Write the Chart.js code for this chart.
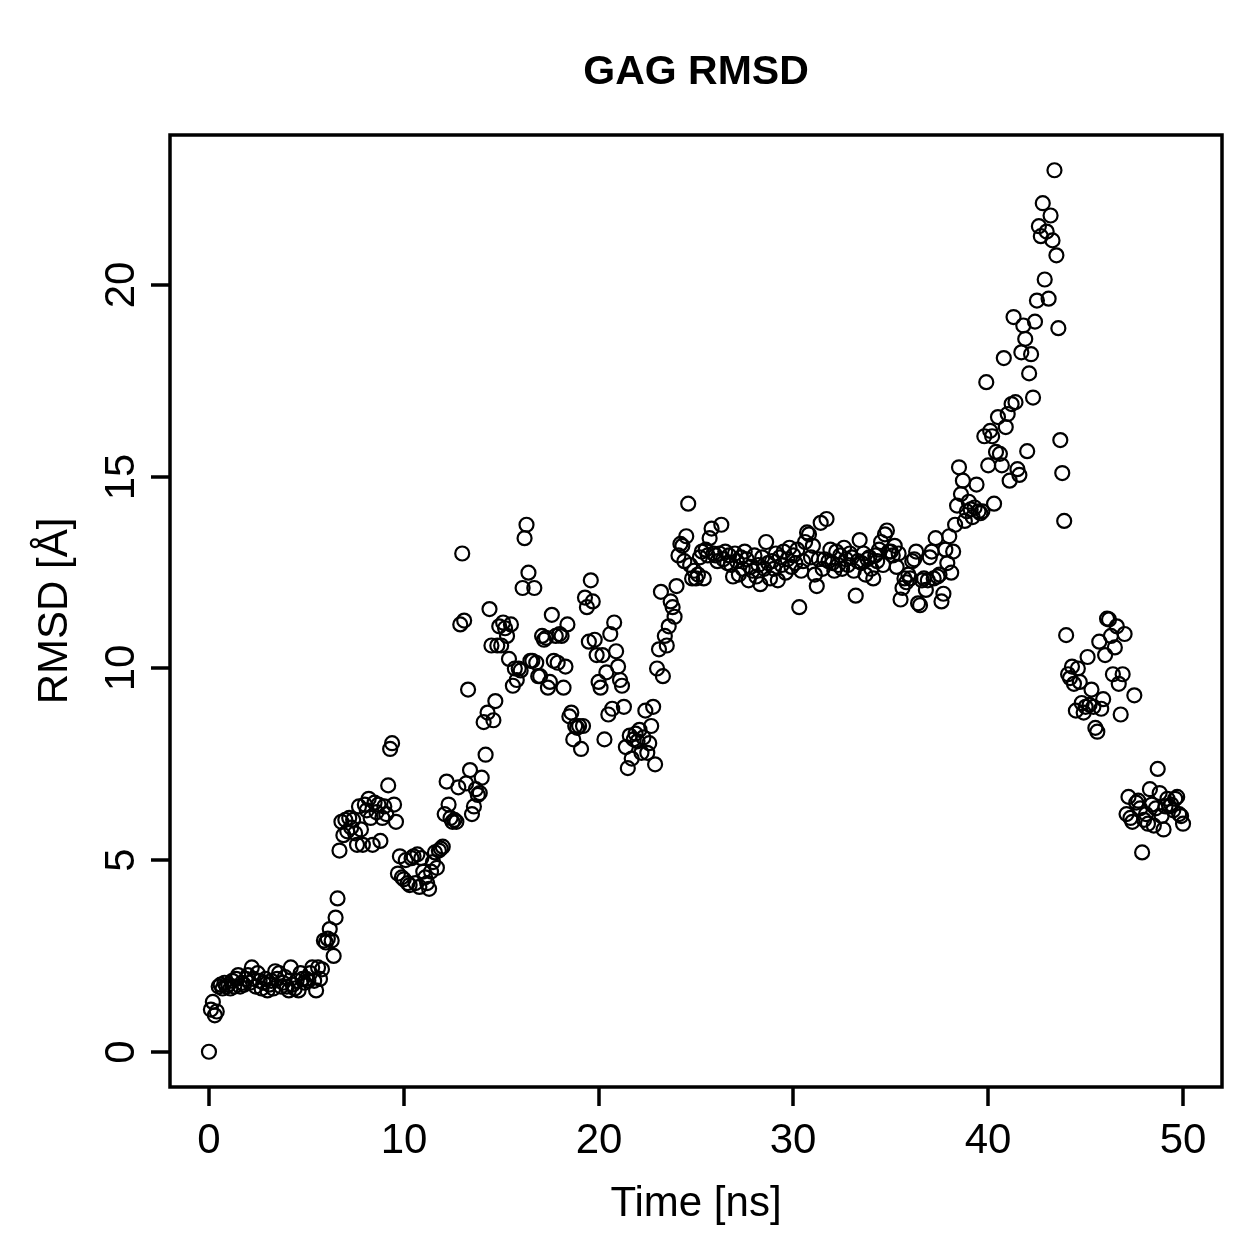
<!DOCTYPE html>
<html>
<head>
<meta charset="utf-8">
<script src="https://cdn.jsdelivr.net/npm/chart.js@4/dist/chart.umd.min.js"></script>
<style>
  html, body { margin: 0; padding: 0; background: #fff; }
  #wrap { width: 1259px; height: 1259px; }
</style>
</head>
<body>
<div id="wrap"><canvas id="rmsdChart" width="1259" height="1259"></canvas></div>
<script>
// ---- data (one frame every 0.1 ns, 0 .. 50 ns) ----
const timeStep = 0.1; // ns

// 0 - 9.9 ns
const rmsd00 = [
  0.00, 1.10, 1.30, 0.95, 1.05, 1.70, 1.75, 1.65, 1.80, 1.70,
  1.75, 1.65, 1.85, 1.70, 1.90, 2.00, 1.70, 1.80, 1.75, 1.90,
  2.00, 1.80, 2.20, 1.90, 1.70, 2.05, 1.85, 1.65, 1.80, 1.90,
  1.60, 1.75, 1.85, 1.65, 2.10, 1.90, 2.05, 1.70, 1.80, 1.95,
  1.70, 1.60, 2.20, 1.75, 1.65, 1.85, 1.60, 2.05, 1.90, 1.80,
  1.90, 1.85, 2.05, 2.20, 1.85, 1.60, 2.20, 1.90, 2.15, 2.90,
  2.85, 2.95, 3.20, 2.90, 2.50, 3.50, 4.00, 5.25, 6.00, 5.65,
  6.05, 5.75, 6.10, 5.85, 6.05, 5.70, 5.40, 6.40, 5.80, 5.40,
  6.45, 6.30, 6.60, 6.10, 5.40, 6.50, 6.25, 6.45, 5.50, 6.10,
  6.40, 6.20, 6.95, 7.90, 8.05, 6.45, 6.00, 4.65, 5.10, 4.55
];
// 10 - 19.9 ns
const rmsd10 = [
  4.50, 5.00, 4.40, 4.35, 5.05, 5.10, 4.40, 5.15, 4.30, 5.05,
  4.70, 4.55, 4.40, 4.25, 4.70, 4.95, 5.20, 4.80, 5.25, 5.30,
  5.35, 6.20, 7.05, 6.45, 6.10, 6.00, 6.05, 6.00, 6.90, 11.15,
  13.00, 11.25, 7.00, 9.45, 7.35, 6.20, 6.40, 6.85, 6.70, 6.75,
  7.15, 8.60, 7.75, 8.85, 11.55, 10.60, 8.65, 9.15, 10.60, 11.10,
  10.60, 11.20, 11.05, 10.85, 10.25, 11.15, 9.55, 10.00, 9.70, 10.00,
  9.95, 12.10, 13.40, 13.75, 12.50, 10.20, 10.20, 12.10, 10.15, 9.80,
  9.80, 10.85, 10.75, 10.80, 9.50, 9.65, 11.40, 10.20, 10.85, 10.15,
  10.90, 10.85, 9.50, 10.05, 11.15, 8.75, 8.85, 8.15, 8.50, 8.45,
  8.50, 7.90, 8.50, 11.85, 11.60, 10.70, 12.30, 11.75, 10.75, 10.35
];
// 20 - 29.9 ns
const rmsd20 = [
  9.65, 9.50, 10.35, 8.15, 9.90, 8.80, 10.90, 8.95, 11.20, 10.45,
  10.05, 9.70, 9.55, 9.00, 7.95, 7.40, 8.25, 7.65, 8.15, 8.30,
  8.10, 8.40, 7.80, 8.20, 8.90, 7.80, 8.05, 8.50, 9.00, 7.50,
  10.00, 10.50, 12.00, 9.80, 10.85, 10.60, 11.10, 11.75, 11.60, 11.35,
  12.15, 12.95, 13.25, 13.20, 12.80, 13.45, 14.30, 12.70, 12.35, 12.55,
  12.35, 12.45, 12.90, 13.05, 12.35, 13.10, 12.95, 13.40, 13.65, 13.00,
  12.95, 12.80, 13.00, 13.75, 12.85, 13.05, 12.75, 12.95, 12.70, 12.40,
  13.00, 12.80, 12.45, 12.90, 12.60, 13.05, 12.85, 12.30, 12.65, 12.55,
  12.95, 12.40, 12.70, 12.20, 12.90, 12.60, 13.30, 12.75, 12.35, 12.80,
  12.60, 13.00, 12.30, 12.90, 12.70, 13.05, 12.50, 12.85, 13.15, 12.65
];
// 30 - 39.9 ns
const rmsd30 = [
  12.95, 12.75, 13.10, 11.60, 12.55, 12.80, 13.30, 13.55, 13.50, 12.90,
  13.20, 12.45, 12.15, 12.85, 13.80, 12.60, 12.85, 13.90, 12.80, 13.10,
  12.75, 12.55, 13.05, 12.70, 12.95, 12.60, 13.15, 12.85, 12.70, 13.00,
  12.90, 12.55, 11.90, 12.80, 13.35, 12.75, 13.00, 12.45, 12.85, 12.90,
  12.60, 12.35, 12.95, 12.80, 13.10, 13.30, 12.70, 13.50, 13.60, 13.05,
  13.05, 12.95, 13.20, 12.65, 13.00, 11.80, 12.10, 12.35, 12.25, 12.45,
  12.35, 12.80, 12.85, 13.05, 11.70, 11.65, 12.30, 12.35, 12.05, 12.30,
  12.90, 13.05, 12.35, 13.40, 12.40, 12.45, 11.75, 11.95, 13.10, 12.75,
  13.45, 12.50, 13.05, 13.75, 14.25, 15.25, 14.55, 14.90, 13.85, 14.10,
  14.35, 14.15, 13.95, 14.20, 14.80, 14.10, 14.05, 14.10, 16.06, 17.47
];
// 40 - 50 ns
const rmsd40 = [
  15.30, 16.20, 16.06, 14.30, 15.65, 16.56, 15.60, 15.30, 18.10, 16.30,
  16.64, 14.90, 16.90, 19.17, 16.95, 15.20, 15.05, 18.25, 18.95, 18.60,
  15.67, 17.70, 18.20, 17.07, 19.05, 19.60, 21.54, 21.28, 22.14, 20.15,
  21.40, 19.65, 21.82, 21.17, 23.00, 20.78, 18.88, 15.96, 15.10, 13.85,
  10.87, 9.85, 9.75, 10.05, 9.60, 8.90, 10.00, 9.65, 9.10, 8.85,
  9.00, 10.30, 9.05, 9.45, 9.00, 8.45, 8.35, 10.70, 8.95, 9.20,
  10.35, 11.30, 11.28, 10.85, 9.85, 10.55, 11.10, 9.60, 8.80, 9.85,
  10.90, 6.20, 6.65, 6.10, 6.00, 9.30, 6.50, 6.55, 6.35, 5.20,
  6.05, 6.20, 5.95, 6.85, 6.45, 5.90, 6.35, 7.38, 6.75, 6.15,
  5.80, 6.40, 6.60, 6.40, 6.45, 6.30, 6.60, 6.65, 6.20, 6.15,
  5.95
];

const xTicks = [0, 10, 20, 30, 40, 50];
const yTicks = [0, 5, 10, 15, 20];

const chartTitle = 'GAG RMSD';
const xTitle = 'Time [ns]';
const yTitle = 'RMSD [Å]';

// ---- build points ----
const rmsdAll = [].concat(rmsd00, rmsd10, rmsd20, rmsd30, rmsd40);
const points = rmsdAll.map((v, i) => ({ x: Math.round(i * timeStep * 10) / 10, y: v }));

// R style: range extended 4% on each side
function padRange(lo, hi) {
  const d = (hi - lo) * 0.04;
  return [lo - d, hi + d];
}
const xRange = padRange(0, 50);
const yRange = padRange(Math.min(...rmsdAll), Math.max(...rmsdAll));

const FONT = '"Liberation Sans", Arial, Helvetica, sans-serif';

// box, ticks and texts drawn the base-R way
const rAxes = {
  id: 'rAxes',
  afterDraw(chart) {
    const ctx = chart.ctx;
    const a = chart.chartArea;
    const xs = chart.scales.x;
    const ys = chart.scales.y;
    ctx.save();
    ctx.strokeStyle = '#000';
    ctx.fillStyle = '#000';
    ctx.lineWidth = 3.5;
    ctx.lineCap = 'square';
    ctx.strokeRect(a.left, a.top, a.right - a.left, a.bottom - a.top);
    ctx.lineCap = 'butt';

    // x axis
    ctx.font = '42px ' + FONT;
    ctx.textAlign = 'center';
    ctx.textBaseline = 'alphabetic';
    xTicks.forEach(v => {
      const px = Math.round(xs.getPixelForValue(v));
      ctx.beginPath();
      ctx.moveTo(px, a.bottom);
      ctx.lineTo(px, a.bottom + 19);
      ctx.stroke();
      ctx.fillText(String(v), px, 1153);
    });

    // y axis (labels rotated, like R's las = 0)
    yTicks.forEach(v => {
      const py = Math.round(ys.getPixelForValue(v));
      ctx.beginPath();
      ctx.moveTo(a.left, py);
      ctx.lineTo(a.left - 19, py);
      ctx.stroke();
      ctx.save();
      ctx.translate(134, py);
      ctx.rotate(-Math.PI / 2);
      ctx.fillText(String(v), 0, 0);
      ctx.restore();
    });

    // titles
    const cx = (a.left + a.right) / 2;
    const cy = (a.top + a.bottom) / 2;
    ctx.font = 'bold 41px ' + FONT;
    ctx.fillText(chartTitle, cx, 84);
    ctx.font = '42px ' + FONT;
    ctx.fillText(xTitle, cx, 1216);
    ctx.save();
    ctx.translate(67, cy);
    ctx.rotate(-Math.PI / 2);
    ctx.fillText(yTitle, 0, 0);
    ctx.restore();
    ctx.restore();
  }
};

const ctx = document.getElementById('rmsdChart').getContext('2d');
new Chart(ctx, {
  type: 'scatter',
  data: {
    datasets: [{
      label: 'RMSD',
      data: points,
      pointStyle: 'circle',
      pointRadius: 7,
      pointBorderWidth: 2.2,
      pointBorderColor: '#000',
      pointBackgroundColor: 'rgba(0,0,0,0)',
      pointHoverRadius: 7
    }]
  },
  options: {
    responsive: false,
    devicePixelRatio: 1,
    animation: false,
    events: [],
    layout: { padding: { left: 170, right: 37, top: 135, bottom: 172 } },
    plugins: {
      legend: { display: false },
      tooltip: { enabled: false },
      title: { display: false }
    },
    scales: {
      x: { type: 'linear', display: false, min: xRange[0], max: xRange[1] },
      y: { type: 'linear', display: false, min: yRange[0], max: yRange[1] }
    }
  },
  plugins: [rAxes]
});
</script>
</body>
</html>
